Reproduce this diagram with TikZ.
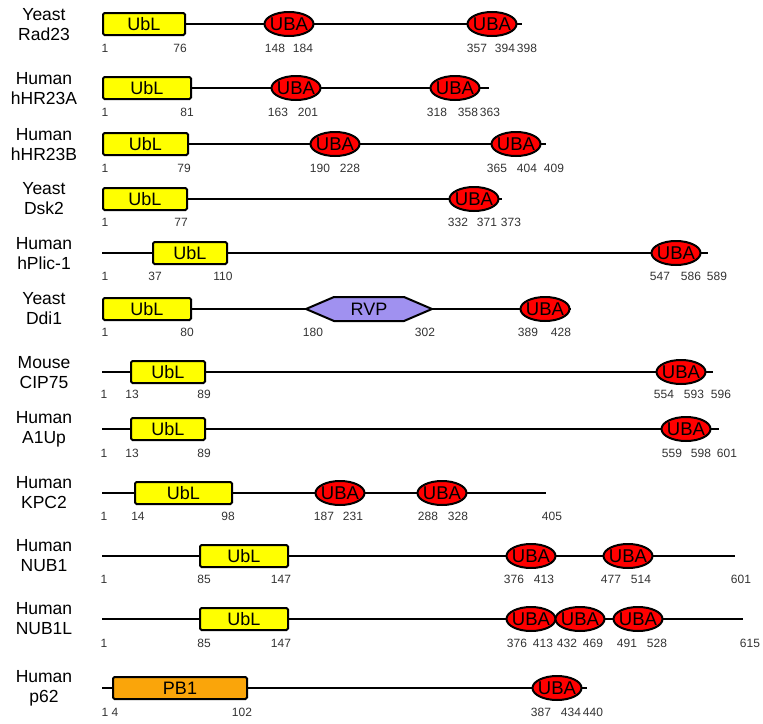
\documentclass[tikz,border=0pt]{standalone}
\usepackage{fontspec}
\setmainfont{Liberation Sans}
\usetikzlibrary{shapes.geometric}
\definecolor{ublyellow}{RGB}{255,255,0}
\definecolor{ubared}{RGB}{255,0,0}
\definecolor{rvpviolet}{RGB}{160,145,240}
\definecolor{pbone}{RGB}{250,165,10}
\tikzset{
  chain/.style={line width=1.8pt},
  ubl/.style={draw,line width=2pt,fill=ublyellow,rounded corners=1.5pt,minimum height=22pt,inner sep=0pt,font=\fontsize{18}{18}\selectfont},
  uba/.style={draw,ellipse,line width=2pt,fill=ubared,minimum width=49pt,minimum height=24pt,inner sep=0pt,font=\fontsize{18.5}{19}\selectfont},
  num/.style={font=\fontsize{12}{12}\selectfont,text=black!80,inner sep=0pt},
  species/.style={align=center,font=\fontsize{17.5}{20}\selectfont,inner sep=0pt}
}

\begin{document}
\begin{tikzpicture}[x=1pt,y=-1pt]
  \useasboundingbox (0,0) rectangle (763,723);
  % Yeast Rad23
  \node[species] (l1) at (44,25) {Yeast\\Rad23};
  \coordinate (s1) at (102,24); \coordinate (e1) at (522,24);
  \draw[chain] (s1)--(e1);
  \node[ubl,minimum width=82pt] (ubl1) at (144,24) {UbL};
  \node[uba] (uba1a) at (289,24) {\makebox[0pt]{UBA}};
  \node[uba] (uba1b) at (492,24) {\makebox[0pt]{UBA}};
  \foreach \x/\t in {105/1,180/76,275/148,303/184,477/357,505/394,527/398} \node[num] (n1-\t) at (\x,48) {\t};
  % Human hHR23A
  \node[species] (l2) at (44,89) {Human\\hHR23A};
  \coordinate (s2) at (102,88); \coordinate (e2) at (489,88);
  \draw[chain] (s2)--(e2);
  \node[ubl,minimum width=88pt] (ubl2) at (147,88) {UbL};
  \node[uba] (uba2a) at (296,88) {\makebox[0pt]{UBA}};
  \node[uba] (uba2b) at (455,88) {\makebox[0pt]{UBA}};
  \foreach \x/\t in {105/1,187/81,278/163,308/201,437/318,468/358,490/363} \node[num] (n2-\t) at (\x,112) {\t};
  % Human hHR23B
  \node[species] (l3) at (44,145) {Human\\hHR23B};
  \coordinate (s3) at (102,144); \coordinate (e3) at (546,144);
  \draw[chain] (s3)--(e3);
  \node[ubl,minimum width=85pt] (ubl3) at (145.5,144) {UbL};
  \node[uba] (uba3a) at (335,144) {\makebox[0pt]{UBA}};
  \node[uba] (uba3b) at (516,144) {\makebox[0pt]{UBA}};
  \foreach \x/\t in {105/1,184/79,320/190,350/228,497/365,527/404,554/409} \node[num] (n3-\t) at (\x,168) {\t};
  % Yeast Dsk2
  \node[species] (l4) at (44,199) {Yeast\\Dsk2};
  \coordinate (s4) at (102,199); \coordinate (e4) at (502,199);
  \draw[chain] (s4)--(e4);
  \node[ubl,minimum width=84pt] (ubl4) at (145,199) {UbL};
  \node[uba] (uba4a) at (474,199) {\makebox[0pt]{UBA}};
  \foreach \x/\t in {105/1,181/77,458/332,487/371,511/373} \node[num] (n4-\t) at (\x,222) {\t};
  % Human hPlic-1
  \node[species] (l5) at (44,254) {Human\\hPlic-1};
  \coordinate (s5) at (102,253); \coordinate (e5) at (708,253);
  \draw[chain] (s5)--(e5);
  \node[ubl,minimum width=74pt] (ubl5) at (190,253) {UbL};
  \node[uba] (uba5a) at (676,253) {\makebox[0pt]{UBA}};
  \foreach \x/\t in {105/1,155/37,223/110,660/547,691/586,717/589} \node[num] (n5-\t) at (\x,276) {\t};
  % Yeast Ddi1
  \node[species] (l6) at (44,309) {Yeast\\Ddi1};
  \coordinate (s6) at (102,309); \coordinate (e6) at (571,309);
  \draw[chain] (s6)--(e6);
  \node[ubl,minimum width=88pt] (ubl6) at (147,309) {UbL};
  \draw[line width=2pt,fill=rvpviolet,line join=round] (306,309)--(334,297)--(404,297)--(432,309)--(404,321)--(334,321)--cycle;
  \node[font=\fontsize{18}{18}\selectfont] (rvp6) at (369,309) {RVP};
  \node[uba] (uba6a) at (545,309) {\makebox[0pt]{UBA}};
  \foreach \x/\t in {105/1,187/80,313/180,425/302,528/389,561/428} \node[num] (n6-\t) at (\x,332) {\t};
  % Mouse CIP75
  \node[species] (l7) at (44,372.5) {Mouse\\CIP75};
  \coordinate (s7) at (102,372); \coordinate (e7) at (713,372);
  \draw[chain] (s7)--(e7);
  \node[ubl,minimum width=74pt] (ubl7) at (168,372) {UbL};
  \node[uba] (uba7a) at (681,372) {\makebox[0pt]{UBA}};
  \foreach \x/\t in {104/1,132/13,204/89,664/554,694/593,721/596} \node[num] (n7-\t) at (\x,394) {\t};
  % Human A1Up
  \node[species] (l8) at (44,429) {Human\\A1Up};
  \coordinate (s8) at (102,429); \coordinate (e8) at (719,429);
  \draw[chain] (s8)--(e8);
  \node[ubl,minimum width=74pt] (ubl8) at (168,429) {UbL};
  \node[uba] (uba8a) at (686,429) {\makebox[0pt]{UBA}};
  \foreach \x/\t in {104/1,132/13,204/89,672/559,701/598,727/601} \node[num] (n8-\t) at (\x,453) {\t};
  % Human KPC2
  \node[species] (l9) at (44,493) {Human\\KPC2};
  \coordinate (s9) at (102,493); \coordinate (e9) at (546,493);
  \draw[chain] (s9)--(e9);
  \node[ubl,minimum width=97pt] (ubl9) at (183.5,493) {UbL};
  \node[uba] (uba9a) at (340,493) {\makebox[0pt]{UBA}};
  \node[uba] (uba9b) at (442,493) {\makebox[0pt]{UBA}};
  \foreach \x/\t in {104/1,138/14,228/98,324/187,353/231,428/288,458/328,552/405} \node[num] (n9-\t) at (\x,516) {\t};
  % Human NUB1
  \node[species] (l10) at (44,556) {Human\\NUB1};
  \coordinate (s10) at (102,556); \coordinate (e10) at (735,556);
  \draw[chain] (s10)--(e10);
  \node[ubl,minimum width=88pt] (ubl10) at (244,556) {UbL};
  \node[uba] (uba10a) at (531,556) {\makebox[0pt]{UBA}};
  \node[uba] (uba10b) at (628,556) {\makebox[0pt]{UBA}};
  \foreach \x/\t in {104/1,204/85,281/147,514/376,544/413,611/477,641/514,741/601} \node[num] (n10-\t) at (\x,579) {\t};
  % Human NUB1L
  \node[species] (l11) at (44,619) {Human\\NUB1L};
  \coordinate (s11) at (102,619); \coordinate (e11) at (743,619);
  \draw[chain] (s11)--(e11);
  \node[ubl,minimum width=88pt] (ubl11) at (244,619) {UbL};
  \node[uba] (uba11a) at (531,619) {\makebox[0pt]{UBA}};
  \node[uba] (uba11b) at (580,619) {\makebox[0pt]{UBA}};
  \node[uba] (uba11c) at (638,619) {\makebox[0pt]{UBA}};
  \foreach \x/\t in {104/1,204/85,281/147,517/376,543/413,567/432,593/469,627/491,657/528,750/615} \node[num] (n11-\t) at (\x,643) {\t};
  % Human p62
  \node[species] (l12) at (44,688) {Human\\p62};
  \coordinate (s12) at (102,688); \coordinate (e12) at (587,688);
  \draw[chain] (s12)--(e12);
  \node[ubl,fill=pbone,minimum width=134pt] (pb12) at (180,688) {PB1};
  \node[uba] (uba12a) at (557,688) {\makebox[0pt]{UBA}};
  \foreach \x/\t in {105/1,115/4,242/102,541/387,571/434,593/440} \node[num] (n12-\t) at (\x,712) {\t};
\end{tikzpicture}
\end{document}
